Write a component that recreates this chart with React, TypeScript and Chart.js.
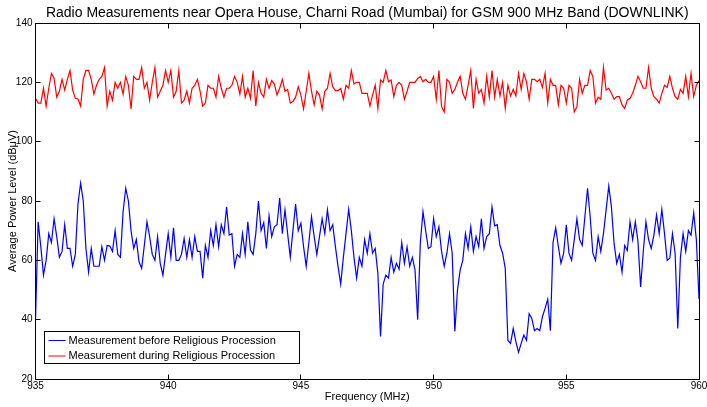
import React, { useEffect, useRef } from "react";
import { Chart, registerables } from "chart.js";

Chart.register(...registerables);

// Sampling grid of the measurement (MHz)
const FREQ_START = 935;
const FREQ_STEP = 0.1;

const X_TICKS = [935, 940, 945, 950, 955, 960];
const Y_TICKS = [20, 40, 60, 80, 100, 120, 140];

const TITLE =
  "Radio Measurements near Opera House, Charni Road (Mumbai) for GSM 900 MHz Band (DOWNLINK)";
const X_TITLE = "Frequency (MHz)";
const Y_TITLE = "Average Power Level (dBμV)";
const SERIES_LABELS = [
  "Measurement before Religious Procession",
  "Measurement during Religious Procession",
];

// dBμV, before the procession (blue)
const BEFORE = [
  40, 73, 64.6, 55, 60, 69, 66, 74, 68, 61, 63, 72, 64, 64, 58, 62, 79, 86, 80, 64,
  56, 64, 58, 58, 58, 64.6, 60, 65, 64.8, 63, 70, 62, 61, 76.4, 84.3, 80, 70, 64, 67, 59.5,
  57.3, 65, 73, 68, 62, 60, 68, 59, 55, 62, 69, 61, 71, 60, 60, 62, 67.4, 61, 67, 61,
  68, 63, 63, 54, 65, 61, 70, 65, 72, 64.6, 72, 69, 78, 68.5, 69, 58, 62, 61, 69, 62,
  73, 63.5, 62, 69, 80, 70, 72.7, 64, 75, 68, 71.3, 72, 81, 69, 77, 69, 61, 70, 79, 70,
  72.5, 64.6, 58, 66, 74.7, 68, 62, 68, 74, 69, 77, 70, 72, 64.6, 57.9, 52, 61, 69, 77.2, 70,
  61, 54, 61, 58, 67, 62.4, 69, 62.4, 64, 55.6, 34.3, 52, 55, 54, 61, 56, 59, 57, 66, 59,
  64.5, 58, 61, 56.7, 40, 66, 76.4, 70, 64, 64.6, 74, 68, 71.3, 63, 58, 62.4, 69, 62.4, 36, 50,
  56.7, 60, 69, 64, 71.3, 63, 68, 64.6, 74, 64, 68, 69, 78, 71.6, 72, 65, 62.4, 57.3, 33, 32,
  37, 32.6, 29, 32, 34.8, 33, 42, 40.4, 36.3, 37, 36.3, 41, 43.8, 46.9, 36.3, 66, 71, 64.6, 59, 62.4,
  72, 62.4, 60, 67, 74, 67, 65, 74.7, 84.3, 74.7, 62.4, 60, 68, 63, 69, 77, 85, 78, 65.7, 59,
  62, 56, 65, 63.3, 73, 67, 73, 66.3, 51, 63, 73, 67, 64, 68.5, 75.3, 69, 77.2, 69, 60, 60.7,
  69, 62.4, 37, 61, 69, 63, 70, 68.5, 76, 67, 47,
];

// dBμV, during the procession (red)
const DURING = [
  114.6, 113, 113, 118, 112, 118, 123, 121.4, 115, 117, 121, 117.4, 121, 124, 117.4, 114.6, 114.4, 112, 121, 124,
  124, 121, 116, 119, 121, 122, 125, 112, 117, 114, 120, 118, 120, 116, 122, 119, 111, 122, 121, 121,
  125, 118, 120, 114, 120, 125, 115, 117, 119, 124, 120, 124, 115, 117, 124, 113, 114, 117, 113, 118,
  119, 121, 117, 112, 113, 119, 118, 118, 115, 122, 118, 115, 118, 118, 119, 122, 120, 116, 122, 115,
  118, 114.6, 124, 112, 120, 116.3, 115, 121, 118, 120.6, 119.4, 115.7, 118, 121, 117, 117.6, 113, 113.5, 115, 118.5,
  115.7, 111, 117, 123, 117, 112.4, 117, 115.7, 111, 117, 118, 123, 118.5, 117.2, 117.2, 118, 114.3, 119, 118, 124,
  119.4, 120, 120, 116.3, 116.3, 116.3, 112, 115.7, 119, 111.2, 120.8, 120, 124, 120.2, 120.8, 115.2, 119, 120, 119, 114.3,
  117, 120, 120, 120, 121.3, 122, 120.2, 121, 120, 120, 122, 114.3, 124, 111.8, 110, 121, 120, 116.3, 117.6, 120,
  122, 116.3, 114.3, 119, 124, 111.2, 121, 116.3, 117.6, 113, 122, 115, 124, 115, 121, 115.4, 120, 111.2, 119, 115.4,
  117.6, 115.4, 123, 117.6, 123, 120.2, 114.3, 121, 121, 120.2, 121, 118.3, 123, 113, 121, 119, 119, 112.4, 119, 118,
  113, 119, 118, 110, 111.8, 121, 116.3, 119, 119, 124, 122, 113, 115, 114.3, 125, 117.4, 118, 116.3, 114.3, 115.2,
  115.2, 112.4, 111.2, 114, 114.6, 116.3, 119, 122, 120.2, 118, 118, 125, 118, 115.2, 114.3, 113, 116.3, 119, 118.3, 122,
  118, 115.2, 114.3, 117.6, 116.3, 122, 115.2, 123, 115.2, 119, 120.6,
];

const FONT_FAMILY = "'Liberation Sans', Arial, Helvetica, sans-serif";

const toPoints = (vals: number[]) =>
  vals.map((v, i) => ({ x: +(FREQ_START + i * FREQ_STEP).toFixed(2), y: v }));

const framePlugin = {
  id: "matlabFrame",
  afterDraw(chart: any) {
    const { ctx, chartArea } = chart;
    const { left, right, top, bottom } = chartArea;
    const xs = chart.scales.x;
    const ys = chart.scales.y;
    ctx.save();
    // box
    ctx.strokeStyle = "#000";
    ctx.lineWidth = 1;
    const L = Math.floor(left) + 0.5;
    const R = Math.floor(right) + 0.5;
    const T = Math.floor(top) + 0.5;
    const B = Math.floor(bottom) + 0.5;
    ctx.beginPath();
    ctx.rect(L, T, R - L, B - T);
    ctx.stroke();
    // inward ticks
    const tl = 5;
    ctx.beginPath();
    X_TICKS.forEach((v) => {
      const px = Math.floor(xs.getPixelForValue(v)) + 0.5;
      ctx.moveTo(px, B);
      ctx.lineTo(px, B - tl);
      ctx.moveTo(px, T);
      ctx.lineTo(px, T + tl);
    });
    Y_TICKS.forEach((v) => {
      const py = Math.floor(ys.getPixelForValue(v)) + 0.5;
      ctx.moveTo(L, py);
      ctx.lineTo(L + tl, py);
      ctx.moveTo(R, py);
      ctx.lineTo(R - tl, py);
    });
    ctx.stroke();

    // title
    ctx.fillStyle = "#000";
    ctx.font = `14px ${FONT_FAMILY}`;
    ctx.textAlign = "center";
    ctx.textBaseline = "alphabetic";
    ctx.fillText(TITLE, (left + right) / 2, 17);

    // legend (lower left, inside axes)
    const bx = L + 9;
    const by = B - 48;
    const bw = 255;
    const bh = 32;
    ctx.fillStyle = "#fff";
    ctx.fillRect(bx, by, bw, bh);
    ctx.strokeStyle = "#000";
    ctx.strokeRect(bx, by, bw, bh);
    const colors = ["#0000ff", "#ff0000"];
    ctx.font = `11px ${FONT_FAMILY}`;
    ctx.textAlign = "left";
    ctx.textBaseline = "middle";
    SERIES_LABELS.forEach((lab, k) => {
      const ly = by + 9 + k * 15.5;
      ctx.strokeStyle = colors[k];
      ctx.beginPath();
      ctx.moveTo(bx + 4, ly);
      ctx.lineTo(bx + 21, ly);
      ctx.stroke();
      ctx.fillStyle = "#000";
      ctx.fillText(lab, bx + 24, ly);
    });
    ctx.restore();
  },
};

export default function App() {
  const ref = useRef<HTMLCanvasElement | null>(null);
  useEffect(() => {
    document.body.style.margin = "0";
    const canvas = ref.current;
    if (!canvas) return;
    const chart = new Chart(canvas, {
      type: "line",
      data: {
        datasets: [
          {
            label: SERIES_LABELS[0],
            data: toPoints(BEFORE),
            borderColor: "#0000ff",
            borderWidth: 1.2,
            pointRadius: 0,
            tension: 0,
            fill: false,
          },
          {
            label: SERIES_LABELS[1],
            data: toPoints(DURING),
            borderColor: "#ff0000",
            borderWidth: 1.2,
            pointRadius: 0,
            tension: 0,
            fill: false,
          },
        ],
      },
      options: {
        animation: false,
        responsive: false,
        devicePixelRatio: 1,
        layout: { padding: { top: 23, left: 0, right: 8, bottom: 0 } },
        plugins: {
          legend: { display: false },
          title: { display: false },
          tooltip: { enabled: false },
        },
        scales: {
          x: {
            type: "linear",
            min: 935,
            max: 960,
            afterBuildTicks: (s: any) => {
              s.ticks = X_TICKS.map((v) => ({ value: v }));
            },
            afterFit: (s: any) => {
              s.height = 28;
              s.paddingLeft = 0;
              s.paddingRight = 0;
            },
            grid: { display: false, drawTicks: false },
            border: { display: false },
            ticks: {
              padding: 1,
              color: "#000",
              maxRotation: 0,
              autoSkip: false,
              font: { size: 10, family: FONT_FAMILY },
              callback: (v: any) => String(v),
            },
            title: {
              display: true,
              text: X_TITLE,
              color: "#000",
              font: { size: 11, family: FONT_FAMILY },
              padding: { top: 0, bottom: 3 },
            },
          },
          y: {
            type: "linear",
            min: 20,
            max: 140,
            afterBuildTicks: (s: any) => {
              s.ticks = Y_TICKS.map((v) => ({ value: v }));
            },
            afterFit: (s: any) => {
              s.width = 35.5;
              s.paddingTop = 0;
              s.paddingBottom = 0;
            },
            grid: { display: false, drawTicks: false },
            border: { display: false },
            ticks: {
              padding: 3,
              color: "#000",
              autoSkip: false,
              font: { size: 10, family: FONT_FAMILY },
              callback: (v: any) => String(v),
            },
            title: {
              display: true,
              text: Y_TITLE,
              color: "#000",
              font: { size: 11, family: FONT_FAMILY },
              padding: { top: 6, bottom: 0 },
            },
          },
        },
      },
      plugins: [framePlugin],
    });
    return () => chart.destroy();
  }, []);
  return (
    <div style={{ width: 707, height: 407, background: "#fff" }}>
      <canvas ref={ref} width={707} height={407} style={{ display: "block", width: 707, height: 407 }} />
    </div>
  );
}
